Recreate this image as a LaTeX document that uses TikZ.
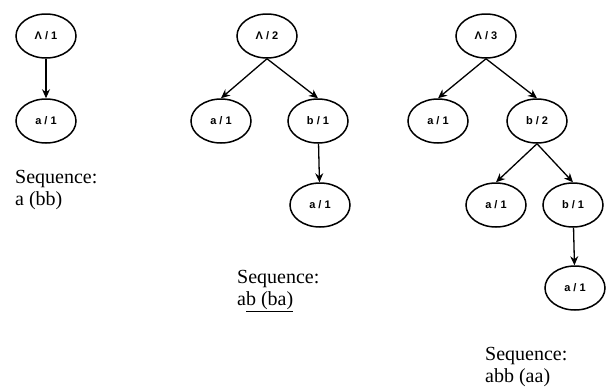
\documentclass[tikz,border=0pt]{standalone}
\usepackage{fontspec}
\setmainfont{Liberation Serif}
\newfontfamily\labelfont{Liberation Sans}
\usetikzlibrary{shapes.geometric,arrows.meta}

\tikzset{
  tnode/.style={ellipse, draw, line width=1.5pt, minimum width=60pt, minimum height=44pt, inner sep=0pt, font=\labelfont\bfseries\fontsize{11}{11}\selectfont},
  tarrow/.style={line width=1.3pt, -{Stealth[length=9pt,width=8pt]}},
  seqtext/.style={align=left, anchor=north west, inner sep=0pt, font=\fontsize{20}{22}\selectfont}
}

\begin{document}
\begin{tikzpicture}[x=1pt,y=-1pt]
			\useasboundingbox (0,0) rectangle (606,389);
			% First tree
			\node[tnode] (r1) at (46,36) {Λ / 1};
			\node[tnode] (r1a) at (46,121) {a / 1};
			\draw[tarrow] (r1) -- (r1a);
			\node[seqtext] (s1) at (15,170) {Sequence:\\a (bb)};
			
			% Second tree
			\node[tnode] (r2) at (267,36) {Λ / 2};
			\node[tnode] (r2a) at (221,121) {a / 1};
			\node[tnode] (r2b) at (318,121) {b / 1};
			\node[tnode] (r2ba) at (320,205) {a / 1};
			\draw[tarrow] (r2.south) -- (r2a.north);
			\draw[tarrow] (r2.south) -- (r2b.north);
			\draw[tarrow] (r2b) -- (r2ba);
			\node[seqtext] (s2) at (237,270) {Sequence:\\a\underline{b (ba)}};
			
			% Third tree
			\node[tnode] (r3) at (486,36) {Λ / 3};
			\node[tnode] (r3a) at (438,121) {a / 1};
			\node[tnode] (r3b) at (537,121) {b / 2};
			\node[tnode] (r3ba) at (496,205) {a / 1};
			\node[tnode] (r3bb) at (573,205) {b / 1};
			\node[tnode] (r3bba) at (575,288) {a / 1};
			\draw[tarrow] (r3.south) -- (r3a.north);
			\draw[tarrow] (r3.south) -- (r3b.north);
			\draw[tarrow] (r3b.south) -- (r3ba.north);
			\draw[tarrow] (r3b.south) -- (r3bb.north);
			\draw[tarrow] (r3bb) -- (r3bba);
			\node[seqtext] (s3) at (485,347) {Sequence:\\abb (aa)};
		\end{tikzpicture}
\end{document}
